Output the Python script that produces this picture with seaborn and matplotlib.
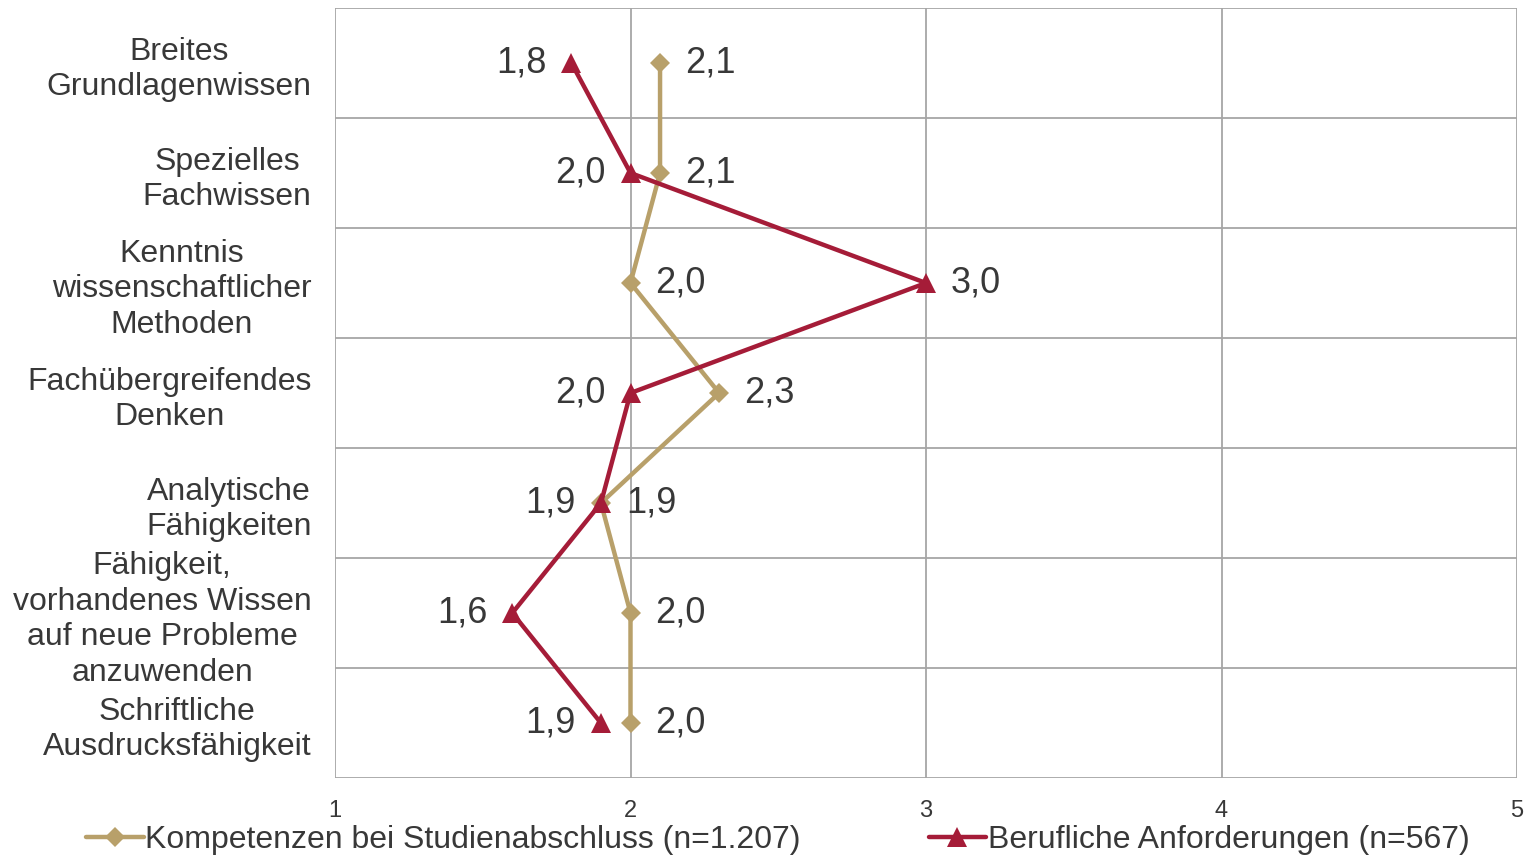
import numpy as np
import pandas as pd
import seaborn as sns
import matplotlib.pyplot as plt
from matplotlib.lines import Line2D

# Daten
kategorien = [
    "Breites\nGrundlagenwissen",
    "Spezielles\nFachwissen",
    "Kenntnis\nwissenschaftlicher\nMethoden",
    "Fachübergreifendes\nDenken",
    "Analytische\nFähigkeiten",
    "Fähigkeit,\nvorhandenes Wissen\nauf neue Probleme\nanzuwenden",
    "Schriftliche\nAusdrucksfähigkeit",
]
kompetenzen = [2.1, 2.1, 2.0, 2.3, 1.9, 2.0, 2.0]
anforderungen = [1.8, 2.0, 3.0, 2.0, 1.9, 1.6, 1.9]
label_kompetenzen = "Kompetenzen bei Studienabschluss (n=1.207)"
label_anforderungen = "Berufliche Anforderungen (n=567)"
x_ticks = [1, 2, 3, 4, 5]

gold = "#B8A06A"
rot = "#A51C38"
grau = "#A6A6A6"
textfarbe = "#383838"

sns.set_theme(style="white")
plt.rcParams["font.family"] = ["Liberation Sans", "DejaVu Sans"]

fig = plt.figure(figsize=(15.28, 8.55), dpi=100)
ax = fig.add_axes([335 / 1528, 1 - 778 / 855, (1517 - 335) / 1528, (778 - 8) / 855])

pos = np.arange(len(kategorien))
df = pd.DataFrame({"pos": pos, "komp": kompetenzen, "anf": anforderungen})

sns.lineplot(data=df, x="komp", y="pos", orient="y", sort=False, errorbar=None,
             ax=ax, color=gold, linewidth=3.2, marker="D", markersize=10,
             markeredgewidth=0, zorder=3)
sns.lineplot(data=df, x="anf", y="pos", orient="y", sort=False, errorbar=None,
             ax=ax, color=rot, linewidth=3.2, marker="^", markersize=15,
             markeredgewidth=0, zorder=4)

# Datenbeschriftungen
def fmt(v):
    return f"{v:.1f}".replace(".", ",")

for i, v in enumerate(kompetenzen):
    ax.annotate(fmt(v), (v, i), xytext=(18, 0), textcoords="offset points",
                ha="left", va="center", fontsize=26, color=textfarbe)
for i, v in enumerate(anforderungen):
    if v == max(anforderungen):
        ax.annotate(fmt(v), (v, i), xytext=(18, 0), textcoords="offset points",
                    ha="left", va="center", fontsize=26, color=textfarbe)
    else:
        ax.annotate(fmt(v), (v, i), xytext=(-18, 0), textcoords="offset points",
                    ha="right", va="center", fontsize=26, color=textfarbe)

# Achsen
ax.set_xlim(1, 5)
ax.set_ylim(len(kategorien) - 0.5, -0.5)
ax.set_xticks(x_ticks)
ax.set_xticklabels([str(t) for t in x_ticks], fontsize=17, color=textfarbe)
ax.set_yticks(pos)
ax.set_yticklabels(kategorien, fontsize=23, color=textfarbe)
for lbl in ax.get_yticklabels():
    lbl.set_multialignment("center")
    lbl.set_linespacing(1.25)
ax.set_xlabel("")
ax.set_ylabel("")

for xv in x_ticks:
    ax.axvline(xv, color=grau, linewidth=1.3, zorder=1)
for yv in np.arange(-0.5, len(kategorien), 1.0):
    ax.axhline(yv, color=grau, linewidth=1.3, zorder=1)

for s in ax.spines.values():
    s.set_visible(False)
ax.tick_params(axis="x", length=8, width=1.3, color=grau, direction="out", pad=8)
ax.tick_params(axis="y", length=0, pad=17)

# Legende
handles = [
    Line2D([], [], color=gold, linewidth=3.2, marker="D", markersize=10, markeredgewidth=0),
    Line2D([], [], color=rot, linewidth=3.2, marker="^", markersize=15, markeredgewidth=0),
]
fig.legend(handles, [label_kompetenzen, label_anforderungen], loc="lower center",
           bbox_to_anchor=(0.509, -0.034), ncol=2, frameon=False, fontsize=23,
           handlelength=1.8, handletextpad=0.05, columnspacing=4.0,
           labelcolor=textfarbe)

fig.savefig("out.png", dpi=100)
